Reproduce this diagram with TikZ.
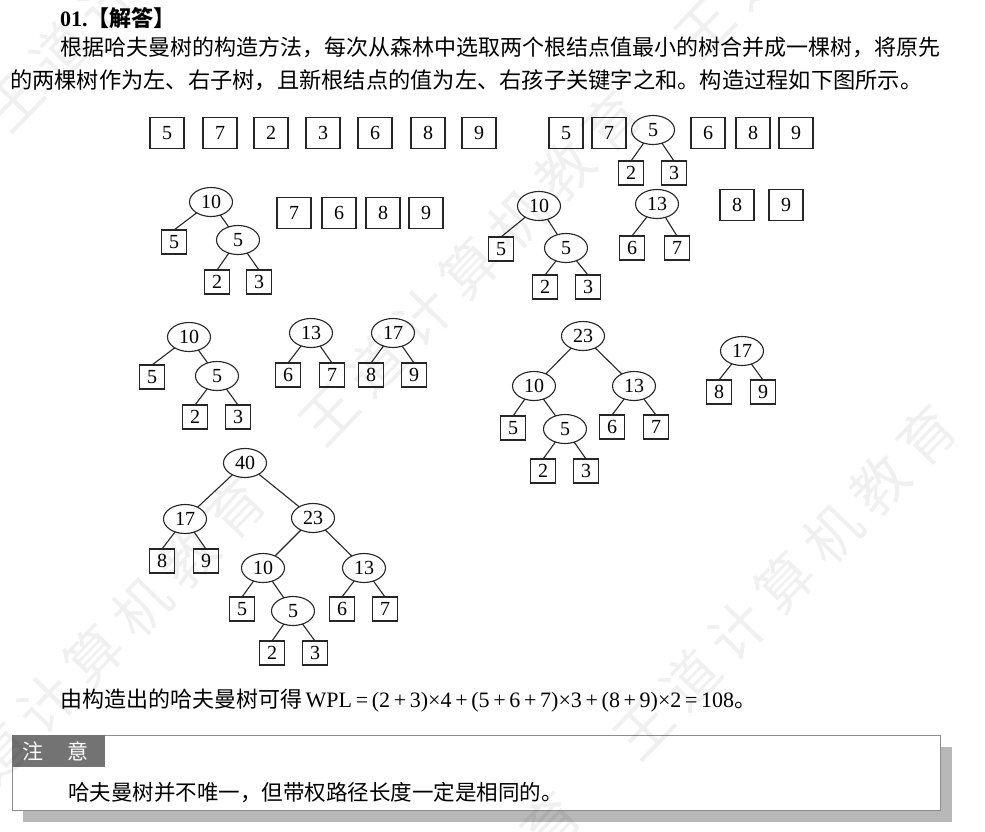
\documentclass[tikz,border=0pt]{standalone}
\usepackage{fontspec}
\setmainfont{Liberation Serif}
\newfontfamily\cjk{Noto Sans CJK SC}
\usetikzlibrary{shapes.geometric}
\definecolor{linec}{HTML}{262626}
\definecolor{noteshadow}{HTML}{B8B8B8}
\definecolor{notehead}{HTML}{737373}
\definecolor{noteframe}{HTML}{8C8C8C}

\begin{document}
\begin{tikzpicture}[x=1pt,y=-1pt,
  every node/.style={inner sep=0pt, outer sep=0pt},
  numfont/.style={font=\fontsize{20}{20}\selectfont},
  bigbox/.style={draw=linec, line width=1.1pt, minimum width=34pt, minimum height=31pt, numfont},
  leaf/.style={draw=linec, line width=1.1pt, minimum width=25pt, minimum height=24pt, numfont},
  inner/.style={ellipse, draw=linec, line width=1.1pt, minimum width=43pt, minimum height=29pt, numfont},
  edge/.style={draw=linec, line width=1.1pt},
  bodytext/.style={anchor=base west, font=\cjk\fontsize{22}{22}\selectfont},
  wmark/.style={rotate=46, text=black, text opacity=0.06, font=\cjk\fontsize{56}{56}\selectfont},
]
\fill[white] (0,0) rectangle (985,832);
\useasboundingbox (0,0) rectangle (985,832);

% heading and explanation
\node[anchor=base west, font=\fontsize{22}{22}\selectfont\bfseries] (title) at (60,26.5)
  {01.{\cjk 【解答】}};
\node[bodytext] (line1) at (60,55.5)
  {根据哈夫曼树的构造方法，每次从森林中选取两个根结点值最小的树合并成一棵树，将原先};
\node[bodytext, font=\cjk\fontsize{22.25}{22.25}\selectfont] (line2) at (10,88.5)
  {的两棵树作为左、右子树，且新根结点的值为左、右孩子关键字之和。构造过程如下图所示。};

% step 1: the initial forest
\node[bigbox] (a1) at (167,133) {5};
\node[bigbox] (a2) at (220,133) {7};
\node[bigbox] (a3) at (271,133) {2};
\node[bigbox] (a4) at (323,133) {3};
\node[bigbox] (a5) at (375,133) {6};
\node[bigbox] (a6) at (428,133) {8};
\node[bigbox] (a7) at (479,133) {9};

% step 2: merge 2 and 3
\node[bigbox] (b5) at (566,133) {5};
\node[bigbox] (b7) at (609,133) {7};
\node[inner]  (bE) at (653,130) {5};
\node[leaf]   (b2) at (631,173) {2};
\node[leaf]   (b3) at (674,173) {3};
\node[bigbox] (b6) at (708,133) {6};
\node[bigbox] (b8) at (753,133) {8};
\node[bigbox] (b9) at (796,133) {9};
\draw[edge] (bE) -- (b2.north);
\draw[edge] (bE) -- (b3.north);

% step 3: merge 5 and 5
\node[inner] (c10) at (211,202) {10};
\node[leaf]  (c5)  at (174,242) {5};
\node[inner] (cE)  at (238,240) {5};
\node[leaf]  (c2)  at (217,282) {2};
\node[leaf]  (c3)  at (259,282) {3};
\node[bigbox] (c7) at (294,213) {7};
\node[bigbox] (c6) at (339,213) {6};
\node[bigbox] (c8) at (383,213) {8};
\node[bigbox] (c9) at (426,213) {9};
\draw[edge] (c10) -- (c5.north);
\draw[edge] (c10) -- (cE);
\draw[edge] (cE) -- (c2.north);
\draw[edge] (cE) -- (c3.north);

% step 4: merge 6 and 7
\node[inner] (d10) at (539,206) {10};
\node[leaf]  (d5)  at (501,249) {5};
\node[inner] (dE)  at (566,248) {5};
\node[leaf]  (d2)  at (545,287) {2};
\node[leaf]  (d3)  at (588,287) {3};
\node[inner] (d13) at (657,204) {13};
\node[leaf]  (d6)  at (632,248) {6};
\node[leaf]  (d7)  at (677,248) {7};
\node[bigbox] (d8) at (737,205) {8};
\node[bigbox] (d9) at (786,205) {9};
\draw[edge] (d10) -- (d5.north);
\draw[edge] (d10) -- (dE);
\draw[edge] (dE) -- (d2.north);
\draw[edge] (dE) -- (d3.north);
\draw[edge] (d13) -- (d6.north);
\draw[edge] (d13) -- (d7.north);

% step 5: merge 8 and 9
\node[inner] (e10) at (189,337) {10};
\node[leaf]  (e5)  at (152,377) {5};
\node[inner] (eE)  at (217,376) {5};
\node[leaf]  (e2)  at (195,417) {2};
\node[leaf]  (e3)  at (238,417) {3};
\node[inner] (e13) at (311,333) {13};
\node[leaf]  (e6)  at (288,375) {6};
\node[leaf]  (e7)  at (332,375) {7};
\node[inner] (e17) at (393,333) {17};
\node[leaf]  (e8)  at (371,375) {8};
\node[leaf]  (e9)  at (414,375) {9};
\draw[edge] (e10) -- (e5.north);
\draw[edge] (e10) -- (eE);
\draw[edge] (eE) -- (e2.north);
\draw[edge] (eE) -- (e3.north);
\draw[edge] (e13) -- (e6.north);
\draw[edge] (e13) -- (e7.north);
\draw[edge] (e17) -- (e8.north);
\draw[edge] (e17) -- (e9.north);

% step 6: merge 10 and 13
\node[inner] (f23) at (583,336) {23};
\node[inner] (f10) at (534,386) {10};
\node[inner] (f13) at (634,386) {13};
\node[leaf]  (f5)  at (513,428) {5};
\node[inner] (fE)  at (565,429) {5};
\node[leaf]  (f6)  at (612,427) {6};
\node[leaf]  (f7)  at (656,427) {7};
\node[leaf]  (f2)  at (543,471) {2};
\node[leaf]  (f3)  at (586,471) {3};
\node[inner] (g17) at (742,351) {17};
\node[leaf]  (g8)  at (719,392) {8};
\node[leaf]  (g9)  at (763,392) {9};
\draw[edge] (f23) -- (f10);
\draw[edge] (f23) -- (f13);
\draw[edge] (f10) -- (f5.north);
\draw[edge] (f10) -- (fE);
\draw[edge] (fE) -- (f2.north);
\draw[edge] (fE) -- (f3.north);
\draw[edge] (f13) -- (f6.north);
\draw[edge] (f13) -- (f7.north);
\draw[edge] (g17) -- (g8.north);
\draw[edge] (g17) -- (g9.north);

% step 7: the final Huffman tree
\node[inner] (h40) at (245,463) {40};
\node[inner] (h17) at (185,519) {17};
\node[inner] (h23) at (313,518) {23};
\node[leaf]  (h8)  at (162,561) {8};
\node[leaf]  (h9)  at (206,561) {9};
\node[inner] (h10) at (263,568) {10};
\node[inner] (h13) at (364,568) {13};
\node[leaf]  (h5)  at (242,609) {5};
\node[inner] (hE)  at (293,611) {5};
\node[leaf]  (h6)  at (342,609) {6};
\node[leaf]  (h7)  at (385,609) {7};
\node[leaf]  (h2)  at (272,653) {2};
\node[leaf]  (h3)  at (315,653) {3};
\draw[edge] (h40) -- (h17);
\draw[edge] (h40) -- (h23);
\draw[edge] (h17) -- (h8.north);
\draw[edge] (h17) -- (h9.north);
\draw[edge] (h23) -- (h10);
\draw[edge] (h23) -- (h13);
\draw[edge] (h10) -- (h5.north);
\draw[edge] (h10) -- (hE);
\draw[edge] (hE) -- (h2.north);
\draw[edge] (hE) -- (h3.north);
\draw[edge] (h13) -- (h6.north);
\draw[edge] (h13) -- (h7.north);

% weighted path length
\node[anchor=base west, font=\fontsize{22}{22}\selectfont] (wpl) at (60,707)
  {{\cjk 由构造出的哈夫曼树可得}\,WPL\,=\,(2\,+\,3)×4\,+\,(5\,+\,6\,+\,7)×3\,+\,(8\,+\,9)×2\,=\,108{\cjk 。}};

% note box with drop shadow
\fill[noteshadow] (23,747) rectangle (952,822);
\draw[noteframe, fill=white, line width=0.9pt] (12,735) rectangle (940,810);
\fill[notehead] (12,735) rectangle (105,767);
\node[anchor=base west, text=white, font=\cjk\fontsize{21}{21}\selectfont] (head) at (23,759.5)
  {注\hspace{24pt}意};
\node[anchor=base west, font=\cjk\fontsize{21.5}{21.5}\selectfont] (note) at (68,800)
  {哈夫曼树并不唯一，但带权路径长度一定是相同的。};

% page watermark
\node[wmark] (wm1) at (470,268) {王\hspace{12pt}道\hspace{12pt}计\hspace{12pt}算\hspace{12pt}机\hspace{12pt}教\hspace{12pt}育};
\node[wmark] (wm2) at (785,582) {王\hspace{12pt}道\hspace{12pt}计\hspace{12pt}算\hspace{12pt}机\hspace{12pt}教\hspace{12pt}育};
\node[wmark] (wm3) at (94,655)  {王\hspace{12pt}道\hspace{12pt}计\hspace{12pt}算\hspace{12pt}机\hspace{12pt}教\hspace{12pt}育};
\node[wmark] (wm4) at (155,-46) {王\hspace{12pt}道\hspace{12pt}计\hspace{12pt}算\hspace{12pt}机\hspace{12pt}教\hspace{12pt}育};
\node[wmark] (wm5) at (846,-119) {王\hspace{12pt}道\hspace{12pt}计\hspace{12pt}算\hspace{12pt}机\hspace{12pt}教\hspace{12pt}育};
\node[wmark] (wm6) at (409,969) {王\hspace{12pt}道\hspace{12pt}计\hspace{12pt}算\hspace{12pt}机\hspace{12pt}教\hspace{12pt}育};
\end{tikzpicture}
\end{document}
